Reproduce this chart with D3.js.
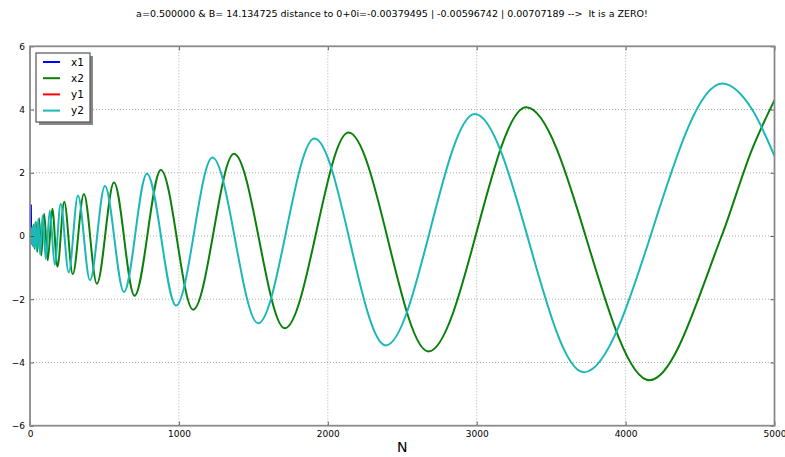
<!DOCTYPE html>
<html lang="en">
<head>
    <meta charset="UTF-8">
    <title></title>
    <style type="text/css">
        html, body { padding:0; margin:0; background:#fff; }
        text { font-family: "DejaVu Sans", sans-serif; }
    </style>
</head>
<body>
<script src="https://d3js.org/d3.v7.min.js"></script>
<script>
    var titleText = 'a=0.500000 & B= 14.134725 distance to 0+0i=-0.00379495 | -0.00596742 | 0.00707189 -->  It is a ZERO!';
    var xTicks = [0, 1000, 2000, 3000, 4000, 5000];
    var yTicks = [-6, -4, -2, 0, 2, 4, 6];
    var seriesNames = ['x1', 'x2', 'y1', 'y2'];
    var seriesColors = ['#0000ff', '#0a800a', '#ff0000', '#1cb8b8'];

    // x1 / y1 only show up at the very start, the rest is hidden under x2 / y2
    var x1N = [6, 7, 9, 12];
    var x1Val = [1.0, 0.29, 0.05, -0.05];
    var y1N = [5, 6, 9, 12];
    var y1Val = [0.0, -0.22, -0.1, 0.05];

    // peaks and troughs (plus the tail)
    var x2N = [1, 8, 10, 12.8, 16, 20, 25, 31, 39, 49, 61, 76, 95, 119, 150, 184, 230, 287, 362, 449, 564, 702, 879,
               1096, 1370, 1711, 2139, 2676, 3333, 4161, 4645, 4850, 5000];
    var x2Val = [0.2, -0.22, 0.24, -0.26, 0.29, -0.32, 0.36, -0.40, 0.45, -0.50, 0.56, -0.62, 0.70, -0.77, 0.86, -0.97, 1.08, -1.21, 1.33, -1.51, 1.69, -1.89, 2.09,
                 -2.33, 2.60, -2.92, 3.27, -3.65, 4.07, -4.56, 0.0, 2.75, 4.30];

    var y2N = [1, 7.4, 9.2, 11.5, 14.4, 17.9, 22.4, 28, 35, 44, 55, 68, 85, 106, 133, 166, 206, 260, 322, 403, 503, 631, 785,
               981, 1225, 1532, 1910, 2389, 2987, 3720, 4649, 4850, 5000];
    var y2Val = [0.0, -0.2, 0.22, -0.24, 0.27, -0.29, 0.33, -0.37, 0.42, -0.47, 0.52, -0.58, 0.65, -0.73, 0.81, -0.91, 1.02, -1.15, 1.28, -1.40, 1.58, -1.77, 1.97,
                 -2.20, 2.48, -2.76, 3.08, -3.46, 3.86, -4.31, 4.82, 4.0, 2.53];

    var chart = {};

    chart.options = {
        width: 785,
        height: 457,
        left: 30,
        right: 774.5,
        top: 46.3,
        bottom: 425.7
    };

    chart.init = function() {
        var o = this.options;
        this.svg = d3.select('body').append('svg')
          .attr('width', o.width)
          .attr('height', o.height);

        this.x = d3.scaleLinear().domain([0, 5000]).range([o.left, o.right]);
        this.y = d3.scaleLinear().domain([-6, 6]).range([o.bottom, o.top]);

        this.svg.append('clipPath').attr('id', 'plotclip')
          .append('rect')
          .attr('x', o.left).attr('y', o.top)
          .attr('width', o.right - o.left).attr('height', o.bottom - o.top);

        this.renderGrid();
        this.renderLines();
        this.renderAxes();
        this.renderLegend();
        this.renderText();
    };

    chart.renderGrid = function() {
        var o = this.options, x = this.x, y = this.y;
        var g = this.svg.append('g').attr('class', 'grid');
        g.selectAll('.gx').data(xTicks.slice(1, -1)).enter().append('line')
          .attr('x1', function(d) { return x(d); }).attr('x2', function(d) { return x(d); })
          .attr('y1', o.top).attr('y2', o.bottom)
          .attr('stroke', '#999').attr('stroke-width', 0.8).attr('stroke-dasharray', '1,2');
        g.selectAll('.gy').data(yTicks.slice(1, -1)).enter().append('line')
          .attr('y1', function(d) { return y(d); }).attr('y2', function(d) { return y(d); })
          .attr('x1', o.left).attr('x2', o.right)
          .attr('stroke', '#999').attr('stroke-width', 0.8).attr('stroke-dasharray', '1,2');
    };

    chart.renderLines = function() {
        var x = this.x, y = this.y;
        var line = d3.line()
          .x(function(d) { return x(d[0]); })
          .y(function(d) { return y(d[1]); })
          .curve(d3.curveMonotoneX);

        var series = [
            d3.zip(x1N, x1Val),
            d3.zip(x2N, x2Val),
            d3.zip(y1N, y1Val),
            d3.zip(y2N, y2Val)
        ];

        this.svg.append('g').attr('clip-path', 'url(#plotclip)')
          .selectAll('path').data(series).enter().append('path')
          .attr('d', line)
          .attr('fill', 'none')
          .attr('stroke', function(d, i) { return seriesColors[i]; })
          .attr('stroke-width', 2)
          .attr('stroke-linejoin', 'round');
    };

    chart.renderAxes = function() {
        var o = this.options, x = this.x, y = this.y;

        var xAxis = this.svg.append('g')
          .attr('transform', 'translate(0,' + o.bottom + ')')
          .call(d3.axisBottom(x).tickValues(xTicks).tickSize(-4).tickPadding(5).tickFormat(d3.format('d')));
        var xTop = this.svg.append('g')
          .attr('transform', 'translate(0,' + o.top + ')')
          .call(d3.axisTop(x).tickValues(xTicks).tickSize(-4).tickFormat(''));
        var yAxis = this.svg.append('g')
          .attr('transform', 'translate(' + o.left + ',0)')
          .call(d3.axisLeft(y).tickValues(yTicks).tickSize(-4).tickPadding(5).tickFormat(d3.format('d')));
        var yRight = this.svg.append('g')
          .attr('transform', 'translate(' + o.right + ',0)')
          .call(d3.axisRight(y).tickValues(yTicks).tickSize(-4).tickFormat(''));

        [xAxis, xTop, yAxis, yRight].forEach(function(g) {
            g.select('.domain').remove();
            g.selectAll('.tick line').attr('stroke', '#333').attr('stroke-width', 0.8);
            g.selectAll('.tick text').attr('fill', '#000').style('font-size', '9px');
        });

        // frame
        this.svg.append('rect')
          .attr('x', o.left).attr('y', o.top)
          .attr('width', o.right - o.left).attr('height', o.bottom - o.top)
          .attr('fill', 'none').attr('stroke', '#8a8a8a').attr('stroke-width', 1.8);
    };

    chart.renderLegend = function() {
        var lg = this.svg.append('g').attr('transform', 'translate(36,53)');
        lg.append('rect')
          .attr('x', 3).attr('y', 3).attr('width', 54).attr('height', 69)
          .attr('fill', '#888');
        lg.append('rect')
          .attr('x', 0).attr('y', 0).attr('width', 54).attr('height', 69)
          .attr('fill', '#fff').attr('stroke', '#555').attr('stroke-width', 1.2);

        var rows = lg.selectAll('.row').data(seriesNames).enter().append('g')
          .attr('transform', function(d, i) { return 'translate(0,' + (9 + i * 16.2) + ')'; });
        rows.append('line')
          .attr('x1', 7).attr('x2', 24)
          .attr('stroke', function(d, i) { return seriesColors[i]; })
          .attr('stroke-width', 2);
        rows.append('text')
          .attr('x', 35).attr('dy', '0.35em')
          .style('font-size', '10.5px')
          .text(function(d) { return d; });
    };

    chart.renderText = function() {
        this.svg.append('text')
          .attr('x', 392).attr('y', 17)
          .attr('text-anchor', 'middle')
          .style('font-size', '9.5px')
          .style('white-space', 'pre')
          .text(titleText);

        this.svg.append('text')
          .attr('x', (this.options.left + this.options.right) / 2).attr('y', 452)
          .attr('text-anchor', 'middle')
          .style('font-size', '14px')
          .text('N');
    };

    chart.init();
</script>
</body>
</html>
